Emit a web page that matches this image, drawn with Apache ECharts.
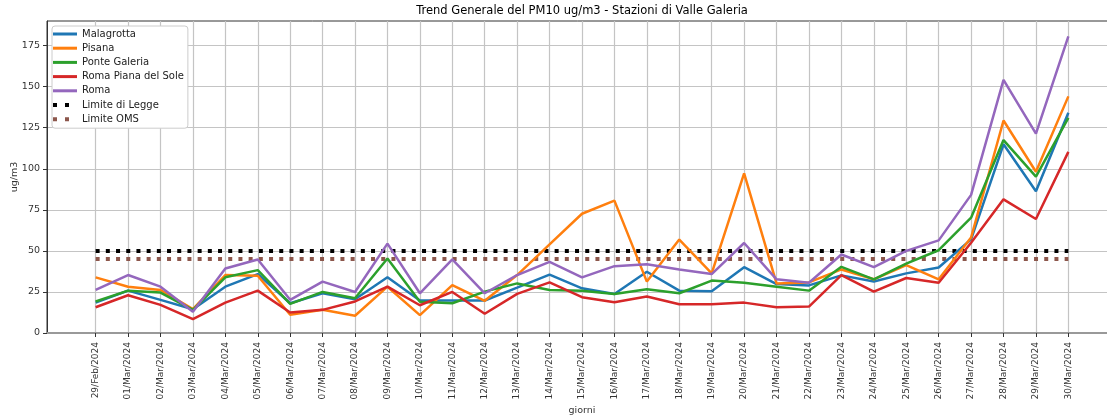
<!DOCTYPE html>
<html>
<head>
<meta charset="utf-8">
<script src="https://cdn.jsdelivr.net/npm/echarts@6/dist/echarts.min.js"></script>
<style>html,body{margin:0;padding:0;background:#fff;}#c{width:1107px;height:419px;}</style>
</head>
<body>
<div id="c"></div>
<script>
const categories = ['29/Feb/2024','01/Mar/2024','02/Mar/2024','03/Mar/2024','04/Mar/2024','05/Mar/2024','06/Mar/2024','07/Mar/2024','08/Mar/2024','09/Mar/2024','10/Mar/2024','11/Mar/2024','12/Mar/2024','13/Mar/2024','14/Mar/2024','15/Mar/2024','16/Mar/2024','17/Mar/2024','18/Mar/2024','19/Mar/2024','20/Mar/2024','21/Mar/2024','22/Mar/2024','23/Mar/2024','24/Mar/2024','25/Mar/2024','26/Mar/2024','27/Mar/2024','28/Mar/2024','29/Mar/2024','30/Mar/2024'];
const malagrotta = [18.5,25.8,20.2,14.5,28.2,35.9,18.1,24.2,20.6,33.9,19.8,19.8,19.8,27.6,35.5,27.2,23.8,37.3,25.8,25.4,40.1,29.8,29.0,35.1,31.4,36.3,39.9,57.0,114.9,86.3,134.1];
const pisana = [33.9,28.2,26.2,14.5,35.3,34.9,11.1,14.1,10.5,28.2,10.9,29.2,19.6,35.3,54.0,72.6,80.6,31.3,56.9,36.3,97.2,30.2,30.8,38.7,32.7,41.3,32.7,58.1,129.4,98.2,144.1];
const ponteGaleria = [19.2,25.8,24.6,14.1,33.9,38.3,17.7,25.0,21.2,45.4,19.0,18.1,25.2,30.2,26.2,25.8,23.8,26.6,24.2,31.9,30.6,28.2,25.8,40.3,32.7,42.3,50.4,70.2,117.5,95.2,131.0];
const romaPianaSole = [15.7,23.0,17.1,8.5,18.5,25.8,12.5,14.1,19.2,28.2,16.9,25.0,11.7,23.8,30.8,21.8,18.7,22.2,17.5,17.5,18.5,15.7,16.1,35.3,25.2,33.5,30.6,55.0,81.4,69.4,110.3];
const roma = [26.2,35.3,28.2,12.9,39.3,44.8,20.2,31.3,25.0,54.4,24.2,44.8,24.2,35.3,43.3,33.9,40.7,41.9,38.7,35.9,54.8,32.7,30.6,47.8,40.1,50.0,56.4,84.1,154.2,121.4,180.6];
const limiteLegge = 50;
const limiteOMS = 45;
const yTicks = [0,25,50,75,100,125,150,175];

const idx = categories.map((_, i) => i);
const pair = arr => arr.map((v, i) => [i, v]);
const lastIdx = categories.length - 1;

const font = 'DejaVu Sans';
const chart = echarts.init(document.getElementById('c'), null, {renderer: 'canvas'});

const ICON_SOLID = 'path://M0,0h24v3h-24z';
const ICON_DOTS = 'path://M0,0h4v4h-4zM12,0h4v4h-4zM24,0L24,4L24,4Z';

function lineSeries(name, data, color) {
  return {
    name, type: 'line', data: pair(data), symbol: 'none', showSymbol: false,
    lineStyle: {color, width: 2.5}, itemStyle: {color}, emphasis: {disabled: true},
    z: 3
  };
}
function limitSeries(name, value, color) {
  return {
    name, type: 'line', data: [[0, value], [lastIdx, value]], symbol: 'none', showSymbol: false,
    lineStyle: {color, width: 4, type: [4, 6.2], cap: 'butt'}, itemStyle: {color}, emphasis: {disabled: true},
    z: 2
  };
}

const seriesNames = ['Malagrotta','Pisana','Ponte Galeria','Roma Piana del Sole','Roma'];
const limitNames = ['Limite di Legge','Limite OMS'];

chart.setOption({
  animation: false,
  backgroundColor: '#fff',
  textStyle: {fontFamily: font},
  graphic: [{
    type: 'text', x: 582, y: 11,
    style: {text: 'Trend Generale del PM10 ug/m3 - Stazioni di Valle Galeria', font: '11.5px "DejaVu Sans"', fill: '#000', textAlign: 'center', textVerticalAlign: 'middle'}
  }],
  grid: {left: 47, right: -10, top: 21, bottom: 86, outerBoundsMode: 'none', containLabel: false, show: true, borderColor: '#333', borderWidth: 1, backgroundColor: 'transparent'},
  legend: {
    orient: 'vertical', left: 52, top: 26,
    padding: [2, 4, 3, 1],
    itemWidth: 24, itemHeight: 4, itemGap: 2.2,
    symbolKeepAspect: true,
    backgroundColor: '#fff', borderColor: '#cccccc', borderWidth: 1, borderRadius: 3,
    textStyle: {fontFamily: font, fontSize: 10, color: '#222', lineHeight: 12},
    data: seriesNames.map(n => ({name: n, icon: ICON_SOLID})).concat(limitNames.map(n => ({name: n, icon: ICON_DOTS})))
  },
  xAxis: {
    type: 'value', min: -1.5, max: lastIdx + 1.5,
    name: 'giorni', nameLocation: 'middle', nameGap: 73, nameMoveOverlap: false,
    nameTextStyle: {fontFamily: font, fontSize: 9.5, color: '#333'},
    axisLine: {show: true, onZero: false, lineStyle: {color: '#999', width: 2}},
    axisTick: {show: true, customValues: idx, length: 4, lineStyle: {color: '#333'}},
    axisLabel: {customValues: idx, rotate: 90, margin: 9, fontFamily: font, fontSize: 9, color: '#333', formatter: v => categories[v] || ''},
    splitLine: {show: true, lineStyle: {color: '#c4c4c4', width: 1.2}}
  },
  yAxis: {
    type: 'value', min: 0, max: 190,
    name: 'ug/m3', nameLocation: 'middle', nameGap: 27, nameMoveOverlap: false,
    nameTextStyle: {fontFamily: font, fontSize: 9.5, color: '#333'},
    axisLine: {show: true, onZero: false, lineStyle: {color: '#333', width: 1}},
    axisTick: {show: true, customValues: yTicks, length: 4, lineStyle: {color: '#333'}},
    axisLabel: {customValues: yTicks, margin: 7, fontFamily: font, fontSize: 9.5, color: '#333'},
    splitLine: {show: true, lineStyle: {color: '#c4c4c4', width: 1.2}}
  },
  series: [
    lineSeries('Malagrotta', malagrotta, '#1f77b4'),
    lineSeries('Pisana', pisana, '#ff7f0e'),
    lineSeries('Ponte Galeria', ponteGaleria, '#2ca02c'),
    lineSeries('Roma Piana del Sole', romaPianaSole, '#d62728'),
    lineSeries('Roma', roma, '#9467bd'),
    limitSeries('Limite di Legge', limiteLegge, '#000000'),
    limitSeries('Limite OMS', limiteOMS, '#8c564b')
  ]
});
</script>
</body>
</html>
